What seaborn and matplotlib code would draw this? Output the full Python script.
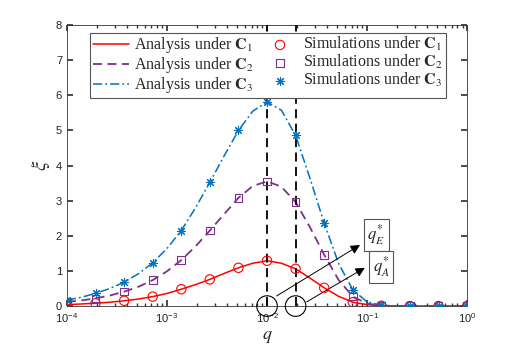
import matplotlib
matplotlib.use("Agg")
import matplotlib.pyplot as plt
import seaborn as sns
from matplotlib.ticker import LogLocator, NullFormatter

# simulation points (q on log scale, 10^-4 .. 10^0)
q_sim = [1.0e-4, 1.93e-4, 3.73e-4, 7.20e-4, 1.39e-3, 2.68e-3, 5.18e-3, 1.0e-2,
         1.93e-2, 3.73e-2, 7.20e-2, 1.39e-1, 2.68e-1, 5.18e-1, 1.0]
sim_c1 = [0.04, 0.08, 0.15, 0.27, 0.48, 0.76, 1.09, 1.29, 1.06, 0.52, 0.11, 0.01, 0.0, 0.0, 0.0]
sim_c2 = [0.12, 0.22, 0.41, 0.74, 1.31, 2.15, 3.08, 3.55, 2.96, 1.46, 0.27, 0.02, 0.0, 0.0, 0.0]
sim_c3 = [0.17, 0.36, 0.68, 1.23, 2.15, 3.52, 5.00, 5.81, 4.86, 2.36, 0.46, 0.02, 0.0, 0.0, 0.0]

# analysis curves, read at half steps
q_ana = [1.0e-4, 1.39e-4, 1.93e-4, 2.68e-4, 3.73e-4, 5.18e-4, 7.20e-4, 1.0e-3,
         1.39e-3, 1.93e-3, 2.68e-3, 3.73e-3, 5.18e-3, 7.20e-3, 1.0e-2, 1.39e-2,
         1.93e-2, 2.68e-2, 3.73e-2, 5.18e-2, 7.20e-2, 1.0e-1, 1.39e-1, 1.93e-1,
         2.68e-1, 3.73e-1, 5.18e-1, 7.20e-1, 1.0]
ana_c1 = [0.04, 0.06, 0.08, 0.11, 0.15, 0.20, 0.27, 0.36, 0.48, 0.61, 0.76, 0.93, 1.09,
          1.22, 1.29, 1.22, 1.06, 0.80, 0.52, 0.28, 0.11, 0.04, 0.01, 0.004, 0.0, 0.0,
          0.0, 0.0, 0.0]
ana_c2 = [0.12, 0.16, 0.22, 0.30, 0.41, 0.55, 0.74, 0.99, 1.31, 1.70, 2.15, 2.62, 3.08,
          3.42, 3.55, 3.40, 2.96, 2.25, 1.46, 0.75, 0.27, 0.07, 0.015, 0.003, 0.0, 0.0,
          0.0, 0.0, 0.0]
ana_c3 = [0.17, 0.25, 0.36, 0.50, 0.68, 0.92, 1.23, 1.64, 2.15, 2.80, 3.52, 4.28, 5.00,
          5.55, 5.81, 5.58, 4.86, 3.65, 2.36, 1.22, 0.46, 0.12, 0.02, 0.004, 0.0, 0.0,
          0.0, 0.0, 0.0]

q_opt = [1.0e-2, 1.93e-2]   # q*_E, q*_A
labels_idx = ["1", "2", "3"]
colors = ["#FF0000", "#7E2F8E", "#0072BD"]
styles = ["-", (0, (5, 3)), (0, (6, 2, 1.2, 2))]
widths = [1.1, 1.3, 1.1]
markers = ["o", "s", (8, 2, 0)]

sns.set_theme(style="ticks")
plt.rcParams["mathtext.fontset"] = "stix"
plt.rcParams["font.family"] = ["Liberation Sans", "DejaVu Sans"]

fig = plt.figure(figsize=(5.15, 3.49), dpi=100)
ax = fig.add_axes([0.130, 0.123, 0.777, 0.805])
ax.set_xscale("log")

for k, ys in enumerate([ana_c1, ana_c2, ana_c3]):
    sns.lineplot(x=q_ana, y=ys, ax=ax, color=colors[k], linestyle=styles[k], lw=widths[k],
                 label=r"Analysis under $\mathbf{C}_" + labels_idx[k] + "$")
for k, ys in enumerate([sim_c1, sim_c2, sim_c3]):
    if k < 2:
        sns.scatterplot(x=q_sim, y=ys, ax=ax, marker=markers[k], s=45 if k == 0 else 30,
                        facecolor="none", edgecolor=colors[k], linewidth=0.8, zorder=4,
                        label=r"Simulations under $\mathbf{C}_" + labels_idx[k] + "$")
    else:
        sns.scatterplot(x=q_sim, y=ys, ax=ax, marker=markers[k], s=35,
                        color=colors[k], linewidth=0.8, zorder=4,
                        label=r"Simulations under $\mathbf{C}_" + labels_idx[k] + "$")

for q in q_opt:
    ax.axvline(q, color="black", ls=(0, (5, 3)), lw=1.3, zorder=3)
sns.scatterplot(x=q_opt, y=[0, 0], ax=ax, s=220, facecolor="none", edgecolor="black",
                linewidth=0.8, zorder=5, clip_on=False, legend=False)

arrow = dict(arrowstyle="-|>", color="black", lw=0.7, mutation_scale=14,
             shrinkA=0, shrinkB=0)
ax.annotate("", xy=(0.085, 1.74), xytext=(0.0125, 0.29), arrowprops=arrow)
ax.annotate("", xy=(0.095, 1.09), xytext=(0.0249, 0.12), arrowprops=arrow)
box = dict(boxstyle="square,pad=0.22", fc="white", ec="#555555", lw=0.8)
ax.text(0.101, 2.03, r"$q_E^{*}$", fontsize=12, bbox=box, va="center")
ax.text(0.114, 1.12, r"$q_A^{*}$", fontsize=12, bbox=box, va="center")

ax.set_xlim(1e-4, 1)
ax.set_ylim(0, 8)
ax.set_xticks([1e-4, 1e-3, 1e-2, 1e-1, 1])
ax.xaxis.set_minor_locator(LogLocator(base=10, subs=range(2, 10), numticks=20))
ax.xaxis.set_minor_formatter(NullFormatter())
ax.tick_params(which="both", direction="in", top=True, right=True, labelsize=8,
               color="#333333", labelcolor="#222222")
ax.tick_params(which="major", length=4)
ax.tick_params(which="minor", length=2)
for s in ax.spines.values():
    s.set_color("#333333")
    s.set_linewidth(0.6)

ax.set_xlabel(r"$q$", fontsize=13, labelpad=2)
ax.set_ylabel(r"$\xi$", fontsize=15, labelpad=3, rotation=90)

leg = ax.legend(ncol=2, loc="upper left", bbox_to_anchor=(0.058, 0.973),
                prop={"family": "Liberation Serif", "size": 11.5},
                frameon=True, fancybox=False, edgecolor="#555555", framealpha=1,
                handlelength=2.3, columnspacing=0.5, borderpad=0.15,
                labelspacing=0.0, handletextpad=0.3, borderaxespad=0)
leg.get_frame().set_linewidth(0.8)
leg.set_zorder(10)

fig.savefig("out.png", dpi=100)
